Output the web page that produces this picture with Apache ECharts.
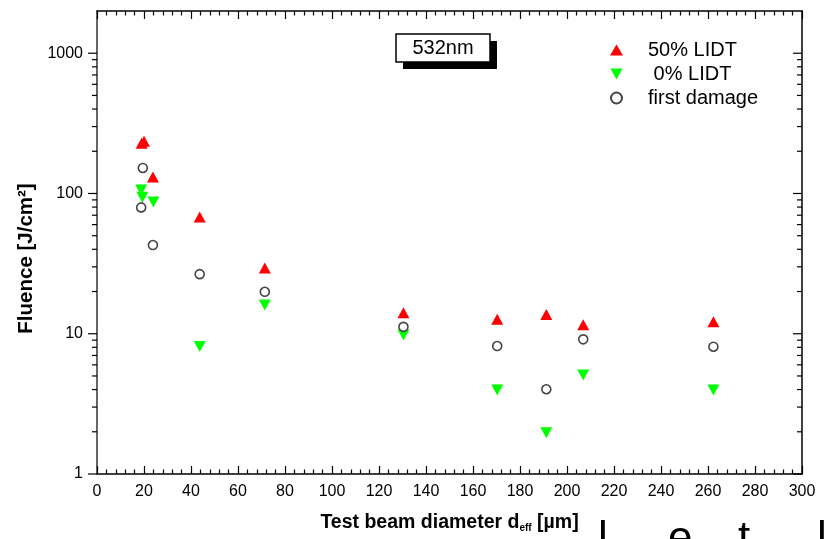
<!DOCTYPE html>
<html><head><meta charset="utf-8">
<script src="https://cdn.jsdelivr.net/npm/echarts@6/dist/echarts.min.js"></script>
<style>html,body{margin:0;padding:0;background:#fff}#c{width:832px;height:539px}</style>
</head><body><div id="c"></div>
<script>
// ---- data ----
const lidt50X = [19, 20, 23.8, 43.7, 71.4, 130.4, 170.3, 191.2, 206.9, 262.3];
const lidt50Y = [228, 236, 131, 68, 29.4, 14.1, 12.7, 13.7, 11.6, 12.2];
const lidt0X = [18.8, 19.3, 24.0, 43.7, 71.4, 130.4, 170.3, 191.2, 206.9, 262.3];
const lidt0Y = [106, 94, 87, 8.1, 16.0, 9.8, 3.97, 1.97, 5.08, 3.97];
const firstDmgX = [19.5, 18.8, 23.8, 43.7, 71.4, 130.4, 170.3, 191.2, 206.9, 262.3];
const firstDmgY = [152, 79.6, 42.9, 26.6, 19.9, 11.2, 8.17, 4.02, 9.12, 8.08];
const seriesNames = ['50% LIDT', ' 0% LIDT', 'first damage'];
const yMajorTicks = [1, 10, 100, 1000];
const yMinorTicks = [2,3,4,5,6,7,8,9,20,30,40,50,60,70,80,90,200,300,400,500,600,700,800,900];
const xMin = 0, xMax = 300, xStep = 20;
const yMin = 1, yMax = 2000;

const FONT = '"Liberation Sans", Arial, sans-serif';
const zip = (xs, ys) => xs.map((x, i) => [x, ys[i]]);

const tickData = [];
yMajorTicks.forEach(v => { tickData.push([xMin, v, 1, 0]); tickData.push([xMax, v, 1, 1]); });
yMinorTicks.forEach(v => { tickData.push([xMin, v, 0, 0]); tickData.push([xMax, v, 0, 1]); });

const chart = echarts.init(document.getElementById('c'), null, {renderer: 'canvas'});
const baseX = {
  type: 'value', min: xMin, max: xMax, interval: xStep,
  splitLine: {show: false},
  axisLine: {show: true, onZero: false, lineStyle: {color: '#000', width: 1.5}},
  axisTick: {show: true, inside: true, length: 8, lineStyle: {color: '#000', width: 1.2}},
  minorTick: {show: true, splitNumber: 5, length: 4.5, lineStyle: {color: '#000', width: 1.2}},
  minorSplitLine: {show: false}
};
const baseY = {
  type: 'log', logBase: 10, min: yMin, max: yMax,
  splitLine: {show: false},
  axisTick: {show: false},
  minorTick: {show: false}
};
chart.setOption({
  animation: false,
  backgroundColor: '#fff',
  grid: {left: 97, right: 30, top: 11, bottom: 65, containLabel: false},
  xAxis: [
    Object.assign({}, baseX, {
      position: 'bottom',
      name: 'Test beam diameter d{sub|eff} [µm]',
      nameLocation: 'middle', nameGap: 39,
      nameTextStyle: {
        fontFamily: FONT, fontSize: 19.5, fontWeight: 'bold', color: '#000',
        rich: {sub: {fontFamily: FONT, fontSize: 10, fontWeight: 'bold', color: '#000', padding: [10, 0, 0, 0]}}
      },
      axisLabel: {show: true, margin: 10, fontFamily: FONT, fontSize: 16, color: '#000'}
    }),
    Object.assign({}, baseX, {position: 'top', axisLabel: {show: false}})
  ],
  yAxis: [
    Object.assign({}, baseY, {
      position: 'left',
      axisLine: {show: true, onZero: false, lineStyle: {color: '#333', width: 1.5}},
      name: 'Fluence [J/cm²]',
      nameLocation: 'middle', nameGap: 53, nameRotate: 90,
      nameTextStyle: {fontFamily: FONT, fontSize: 20.5, fontWeight: 'bold', color: '#000', padding: [0, 32, 0, 0]},
      axisLabel: {
        show: true, margin: 14, fontFamily: FONT, fontSize: 16, color: '#000', showMaxLabel: false,
        formatter: v => {
          const r = Math.round(v);
          return yMajorTicks.indexOf(r) >= 0 ? String(r) : '';
        }
      }
    }),
    Object.assign({}, baseY, {
      position: 'right',
      axisLine: {show: true, onZero: false, lineStyle: {color: '#000', width: 1.5}},
      axisLabel: {show: false}
    })
  ],
  legend: {
    orient: 'vertical', left: 605, top: 35, itemWidth: 13, itemHeight: 11, itemGap: 4,
    textStyle: {fontFamily: FONT, fontSize: 20, color: '#000', padding: [0, 0, 0, 20]},
    data: seriesNames.map(n => ({name: n}))
  },
  series: [
    {
      name: seriesNames[0], type: 'scatter', xAxisIndex: 0, yAxisIndex: 0,
      symbol: 'triangle', symbolSize: [12, 11],
      itemStyle: {color: '#ff0000', opacity: 1}, z: 3,
      data: zip(lidt50X, lidt50Y)
    },
    {
      name: seriesNames[1], type: 'scatter', xAxisIndex: 0, yAxisIndex: 0,
      symbol: 'path://M0,0L12,0L6,11Z', symbolSize: [12, 11],
      itemStyle: {color: '#00ff00', opacity: 1}, z: 4,
      data: zip(lidt0X, lidt0Y)
    },
    {
      name: seriesNames[2], type: 'scatter', xAxisIndex: 0, yAxisIndex: 0,
      symbol: 'circle', symbolSize: 9,
      itemStyle: {color: '#fff', borderColor: '#444', borderWidth: 1.6, opacity: 1}, z: 5,
      data: zip(firstDmgX, firstDmgY)
    },
    {
      type: 'custom', xAxisIndex: 0, yAxisIndex: 0, silent: true, clip: false, z: 6,
      data: tickData,
      renderItem: (params, api) => {
        const p = api.coord([api.value(0), api.value(1)]);
        const len = api.value(2) ? 9 : 5;
        return {
          type: 'line',
          shape: {x1: p[0], y1: p[1], x2: p[0] - len, y2: p[1]},
          style: {stroke: '#000', lineWidth: 1.2}
        };
      }
    }
  ],
  graphic: [
    {
      type: 'group', x: 396, y: 34,
      children: [
        {type: 'rect', shape: {x: 7, y: 7, width: 94, height: 28}, style: {fill: '#000'}},
        {type: 'rect', shape: {x: 0, y: 0, width: 94, height: 28}, style: {fill: '#fff', stroke: '#000', lineWidth: 1.5}},
        {type: 'text', x: 47, y: 14.5, style: {text: '532nm', align: 'center', verticalAlign: 'middle', fontFamily: FONT, fontSize: 20, fill: '#000'}}
      ]
    },
    {type: 'text', x: 598, y: 518, style: {text: 'l', fontFamily: FONT, fontSize: 44, fill: '#000'}},
    {type: 'text', x: 668, y: 518, style: {text: 'e', fontFamily: FONT, fontSize: 44, fill: '#000'}},
    {type: 'text', x: 738, y: 518, style: {text: 't', fontFamily: FONT, fontSize: 44, fill: '#000'}},
    {type: 'text', x: 817, y: 518, style: {text: 'l', fontFamily: FONT, fontSize: 44, fill: '#000'}}
  ]
});
</script>
</body></html>
